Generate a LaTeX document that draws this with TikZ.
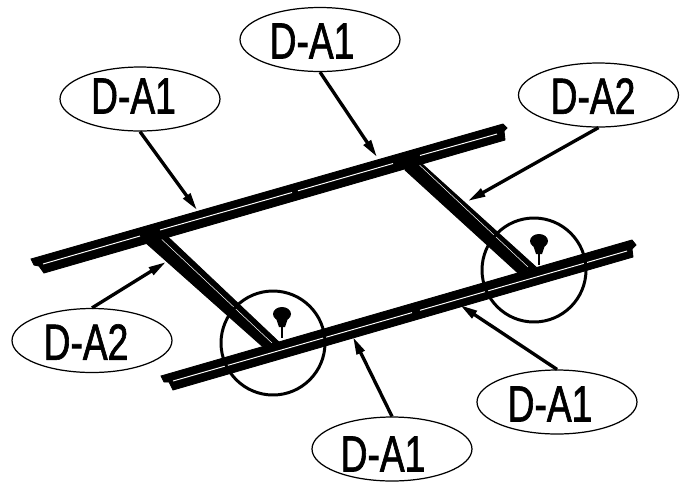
\documentclass[tikz,border=0pt]{standalone}
\usepackage{fontspec}
\usepackage{tikz}
\usetikzlibrary{arrows.meta,shapes.geometric}
\setmainfont[FakeStretch=0.73,FakeBold=1.2]{Liberation Sans}
\tikzset{callout/.style = {ellipse, draw=black, line width=0.7pt, inner sep=0pt, minimum width=3.2cm, minimum height=1.28cm}}
\tikzset{tag/.style = {inner sep=0pt, font=\fontsize{29}{29}\selectfont}}
\tikzset{lead/.style = {line width=1.9pt, -{Triangle[length=10pt,width=4.8pt]}}}
\tikzset{rail/.style = {fill=black, draw=black, line width=0.5pt}}
\tikzset{slit/.style = {white, line width=0.55pt}}
\tikzset{ring/.style = {draw=black, line width=1.7pt, circle, minimum size=2.08cm, inner sep=0pt}}

\begin{document}
\begin{tikzpicture}[x=0.02cm, y=-0.02cm]
            \useasboundingbox (0, 0) rectangle (690, 481);

            % cross bars
            \fill [rail] (146, 243) -- (147, 232) -- (168, 237) -- (280, 343) -- (262, 346) -- cycle;
            \fill [rail] (405, 170) -- (406, 160) -- (420, 162) -- (536, 267) -- (518, 273) -- cycle;
            \draw [white, line width=0.3pt] (155, 233) -- (272, 343);
            \draw [white, line width=0.3pt] (412, 158) -- (528, 267);

            % rails
            \fill [rail] (31, 259) -- (503, 124) -- (507, 128) -- (504, 131) -- (505, 140) -- (44, 273) -- (39, 266) -- (34, 265) -- cycle;
            \fill [rail] (161, 376) -- (632, 240) -- (636, 245) -- (632, 249) -- (633, 257) -- (173, 390) -- (169, 382) -- (164, 382) -- cycle;
            \draw [slit] (43, 264) -- (140, 236);
            \draw [slit] (160, 230) -- (292, 192.5);
            \draw [slit] (298, 190.8) -- (393, 163.5);
            \draw [slit] (420, 155.5) -- (497, 134);
            \draw [slit] (173, 381) -- (412, 312.6);
            \draw [slit] (420, 310.3) -- (627, 251);

            \node [ring] (ringl) at (273, 343) {};
            \node [ring] (ringr) at (534, 270) {};

            % rivets
            \foreach \x/\y in {282/314, 539/241} {
                \fill (\x, \y) ellipse [x radius=9, y radius=7];
                \fill (\x-6, \y+4) -- (\x+6, \y+4) -- (\x+3, \y+13) -- (\x-3, \y+13) -- cycle;
                \draw [line width=1.7pt] (\x, \y+10) -- (\x, \y+24);
            }

            \node [callout] (a1) at (140, 99) {};
            \node [callout] (a2) at (320, 39.5) {};
            \node [callout] (a3) at (598.5, 95) {};
            \node [callout] (a4) at (92, 340.5) {};
            \node [callout] (a5) at (557, 402) {};
            \node [callout] (a6) at (392, 449) {};

            \node [tag] (l1) at (133.5, 96) {D-A1};
            \node [tag] (l2) at (312, 41) {D-A1};
            \node [tag] (l3) at (593, 96) {D-A2};
            \node [tag] (l4) at (86, 342) {D-A2};
            \node [tag] (l5) at (550, 404) {D-A1};
            \node [tag] (l6) at (383, 454) {D-A1};

            \coordinate (t1) at (197, 210);
            \coordinate (t2) at (377, 157);
            \coordinate (t3) at (468, 201);
            \coordinate (t4) at (166, 262);
            \coordinate (t5) at (460, 305);
            \coordinate (t6) at (353, 337);

            \draw [lead] (a1.south) -- (t1);
            \draw [lead] (a2.south) -- (t2);
            \draw [lead] (a3.south) -- (t3);
            \draw [lead] (a4.north) -- (t4);
            \draw [lead] (a5.north) -- (t5);
            \draw [lead] (a6.north) -- (t6);
        \end{tikzpicture}
\end{document}
